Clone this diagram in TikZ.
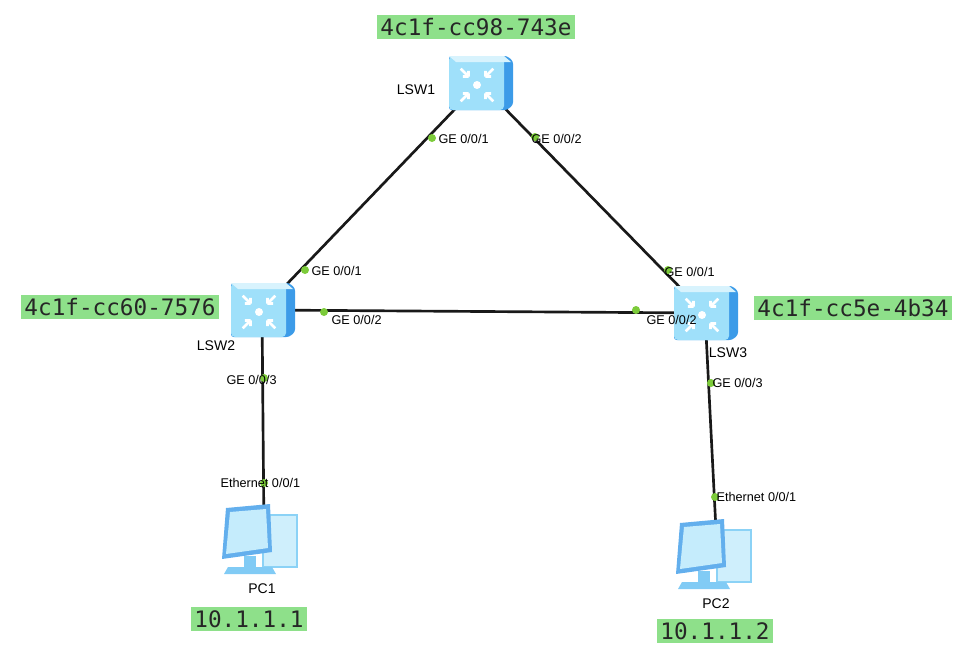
\documentclass[tikz,border=0pt]{standalone}
\usepackage{fontspec}
\setmainfont{Liberation Sans}
\newfontfamily\monof{DejaVu Sans Mono}
\begin{document}
\begin{tikzpicture}[x=0.75pt,y=-0.75pt,
  tag/.style={fill=tagg,inner sep=2.5pt,font=\monof\fontsize{17}{19}\selectfont,text=black!85},
  lbl/.style={font=\fontsize{10.5}{12}\selectfont,inner sep=1pt},
  port/.style={font=\fontsize{9.5}{11}\selectfont,inner sep=1pt,anchor=west},
  dot/.style={circle,fill=dotg,inner sep=0pt,minimum size=6pt},
  link/.style={line width=2pt,black!90}]
\definecolor{tagg}{HTML}{8EE08A}
\definecolor{dotg}{HTML}{7CCB3A}
\definecolor{swf}{HTML}{9FE0FA}
\definecolor{sws}{HTML}{3C9BE8}
\useasboundingbox (0,0) rectangle (970,653);
\tikzset{pics/sw/.style={code={
  \fill[sws,rounded corners=2pt] (-31,-27) -- (27,-27) -- (33,-22) -- (33,22) -- (27,27) -- (-31,27) -- cycle;
  \fill[swf,rounded corners=3pt] (-31,-27) rectangle (24,27);
  \fill[white!60!swf] (-31,-27) -- (24,-27) -- (31,-21) -- (-24,-21) -- cycle;
  \fill[white] (-3,2) circle (4);
  \foreach \a in {45,135,225,315}{\draw[white,line width=2pt,rotate around={\a:(-3,2)}] (9,2) -- (20,2) (9,2) -- (13,-2) (9,2)--(13,6);}
  }},
  pics/pc/.style={code={
  \fill[swf!80!sws] (4,-24) rectangle (40,30);
  \fill[white!50!swf] (6,-22) rectangle (38,28);
  \fill[sws!80] (-32,-30) -- (12,-34) -- (14,14) -- (-36,21) -- cycle;
  \fill[white!40!swf] (-28,-26) -- (8,-29) -- (10,10) -- (-32,16) -- cycle;
  \fill[swf!70!sws] (-14,18) rectangle (-2,29);
  \fill[swf!70!sws] (-30,29) -- (14,29) -- (18,36) -- (-34,36) -- cycle;
  }}}
\coordinate (s1) at (480,83); \coordinate (s2) at (262,310);
\coordinate (s3) at (705,313); \coordinate (p1) at (264,535); \coordinate (p2) at (717,550);
\draw[link] (s1) -- (s2);
\draw[link] (s1) -- (s3);
\draw[link] (s2) -- (s3);
\draw[link] (s2) -- (p1);
\draw[link] (s3) -- (p2);
\pic at (s1) {sw};
\pic at (s2) {sw};
\pic at (s3) {sw};
\pic at (258,538) {pc};
\pic at (712,553) {pc};
\node[dot] (d1) at (432,138) {}; \node[port] at (437,139) {GE 0/0/1};
\node[dot] (d2) at (535,137) {}; \node[port] at (530,139) {GE 0/0/2};
\node[dot] (d3) at (305,270) {}; \node[port] at (310,271) {GE 0/0/1};
\node[dot] (d4) at (668,270) {}; \node[port] at (663,272) {GE 0/0/1};
\node[dot] (d5) at (324,312) {}; \node[port] at (330,320) {GE 0/0/2};
\node[dot] (d6) at (636,310) {}; \node[port] at (645,320) {GE 0/0/2};
\node[dot] (d7) at (264,378) {}; \node[port] at (225,380) {GE 0/0/3};
\node[dot] (d8) at (711,383) {}; \node[port] at (711,383) {GE 0/0/3};
\node[dot] (d9) at (264,483) {}; \node[port] at (219,483) {Ethernet 0/0/1};
\node[dot] (d10) at (715,497) {}; \node[port] at (715,497) {Ethernet 0/0/1};
\node[lbl] at (416,90) {LSW1};
\node[lbl] at (216,346) {LSW2};
\node[lbl] at (728,353) {LSW3};
\node[lbl] at (262,589) {PC1};
\node[lbl] at (716,604) {PC2};
\node[tag] at (476,27) {4c1f-cc98-743e};
\node[tag] at (120,307) {4c1f-cc60-7576};
\node[tag] at (853,308) {4c1f-cc5e-4b34};
\node[tag] at (249,619) {10.1.1.1};
\node[tag] at (715,631) {10.1.1.2};
\end{tikzpicture}
\end{document}
